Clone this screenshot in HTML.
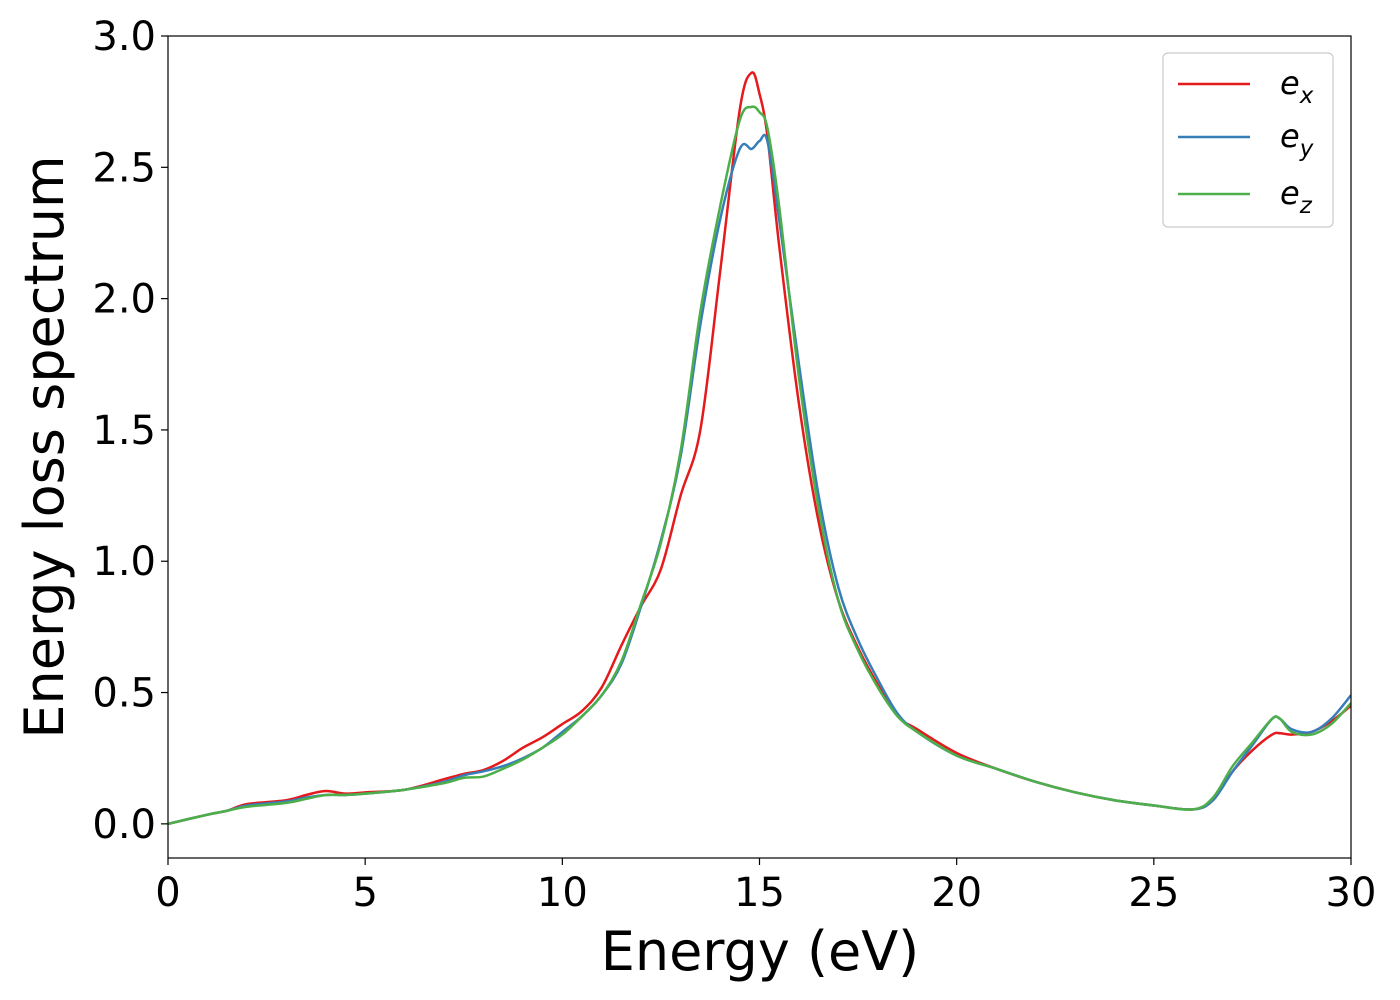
<!DOCTYPE html>
<html><head><meta charset="utf-8"><style>
html,body{margin:0;padding:0;background:#fff;}
svg{display:block;font-family:"DejaVu Sans","Liberation Sans",sans-serif;}
</style></head><body>
<svg id="chart" width="1400" height="1000">
<g id="plot"></g>
</svg>
<script>
const energies=[0,1,1.5,2,3,3.5,4,4.5,5,6,7,7.5,8,8.5,9,9.5,10,10.5,11,11.5,12,12.5,13,13.5,14,14.5,14.8,15,15.2,15.5,16,16.5,17,17.5,18,18.5,19,20,21,22,23,24,25,26,26.5,27,27.5,28,28.2,28.5,29,29.5,30];
const seriesEx=[0,0.035,0.05,0.075,0.09,0.11,0.125,0.115,0.12,0.13,0.17,0.19,0.205,0.24,0.29,0.33,0.38,0.43,0.52,0.68,0.83,0.97,1.25,1.5,2.1,2.72,2.86,2.78,2.62,2.2,1.6,1.15,0.85,0.67,0.53,0.41,0.36,0.27,0.21,0.16,0.12,0.09,0.07,0.055,0.09,0.2,0.28,0.34,0.345,0.34,0.35,0.39,0.45];
const seriesEy=[0,0.035,0.05,0.07,0.085,0.1,0.11,0.11,0.115,0.13,0.16,0.185,0.2,0.22,0.25,0.29,0.35,0.41,0.49,0.61,0.83,1.08,1.4,1.9,2.3,2.57,2.57,2.6,2.6,2.3,1.75,1.25,0.9,0.7,0.55,0.42,0.35,0.26,0.21,0.16,0.12,0.09,0.07,0.055,0.09,0.2,0.3,0.4,0.4,0.36,0.35,0.4,0.49];
const seriesEz=[0,0.035,0.05,0.065,0.08,0.095,0.11,0.11,0.115,0.13,0.155,0.175,0.18,0.21,0.245,0.29,0.34,0.41,0.49,0.62,0.84,1.07,1.42,1.95,2.35,2.68,2.73,2.71,2.65,2.35,1.7,1.2,0.85,0.66,0.52,0.41,0.35,0.26,0.21,0.16,0.12,0.09,0.07,0.055,0.1,0.22,0.31,0.4,0.4,0.35,0.34,0.38,0.46];
const xTicks=[0,5,10,15,20,25,30];
const yTicks=[0.0,0.5,1.0,1.5,2.0,2.5,3.0];
const L=168,R=1351,T=36,B=858,xmin=0,xmax=30,ymin=-0.13,ymax=3.0;
const sx=v=>L+(v-xmin)/(xmax-xmin)*(R-L);
const sy=v=>B-(v-ymin)/(ymax-ymin)*(B-T);
const NS="http://www.w3.org/2000/svg";
const g=document.getElementById('plot');
function mk(t,a,p){const e=document.createElementNS(NS,t);for(const k in a)e.setAttribute(k,a[k]);(p||g).appendChild(e);return e;}
function path(xs,ys){const P=xs.map((x,i)=>[sx(x),sy(ys[i])]);let d=`M${P[0][0]},${P[0][1]}`;
for(let i=0;i<P.length-1;i++){const p0=P[Math.max(0,i-1)],p1=P[i],p2=P[i+1],p3=P[Math.min(P.length-1,i+2)];
const c1=[p1[0]+(p2[0]-p0[0])/6,p1[1]+(p2[1]-p0[1])/6],c2=[p2[0]-(p3[0]-p1[0])/6,p2[1]-(p3[1]-p1[1])/6];
d+=` C${c1[0]},${c1[1]} ${c2[0]},${c2[1]} ${p2[0]},${p2[1]}`;}return d;}
const cols=['#e41a1c','#377eb8','#4daf4a'];
const names=['series-ex','series-ey','series-ez'];
const clip=mk('clipPath',{id:'cp'});mk('rect',{x:L,y:T,width:R-L,height:B-T},clip);
[seriesEx,seriesEy,seriesEz].forEach((s,i)=>{const e=mk('path',{d:path(energies,s),fill:'none',stroke:cols[i],'stroke-width':2.5,'clip-path':'url(#cp)'});
});
const fr=mk('rect',{x:L,y:T,width:R-L,height:B-T,fill:'none',stroke:'#000','stroke-width':1.2});

xTicks.forEach(v=>{mk('line',{x1:sx(v),x2:sx(v),y1:B,y2:B+7,stroke:'#000','stroke-width':1.2});
const t=mk('text',{x:sx(v),y:B+48,'font-size':40,'text-anchor':'middle'});t.textContent=v;
});
yTicks.forEach(v=>{mk('line',{x1:L-7,x2:L,y1:sy(v),y2:sy(v),stroke:'#000','stroke-width':1.2});
const t=mk('text',{x:L-12,y:sy(v)+14,'font-size':40,'text-anchor':'end'});t.textContent=v.toFixed(1);
});
let t=mk('text',{x:760,y:970,'font-size':54,'text-anchor':'middle'});t.textContent='Energy (eV)';

t=mk('text',{x:0,y:0,'font-size':54,'text-anchor':'middle',transform:'translate(63,447) rotate(-90)'});t.textContent='Energy loss spectrum';

const lg=mk('rect',{x:1163,y:53,width:170,height:174,rx:5,fill:'#fff',stroke:'#ccc','stroke-width':1.2});

const subs=['x','y','z'],ly=[84,137,194];
subs.forEach((s,i)=>{mk('line',{x1:1178,x2:1250,y1:ly[i],y2:ly[i],stroke:cols[i],'stroke-width':2.5});
const tx=mk('text',{x:1280,y:ly[i]+10,'font-size':32,'font-style':'italic'});
tx.innerHTML=`e<tspan font-size="23" dy="9">${s}</tspan>`;
});
</script>
</body></html>
